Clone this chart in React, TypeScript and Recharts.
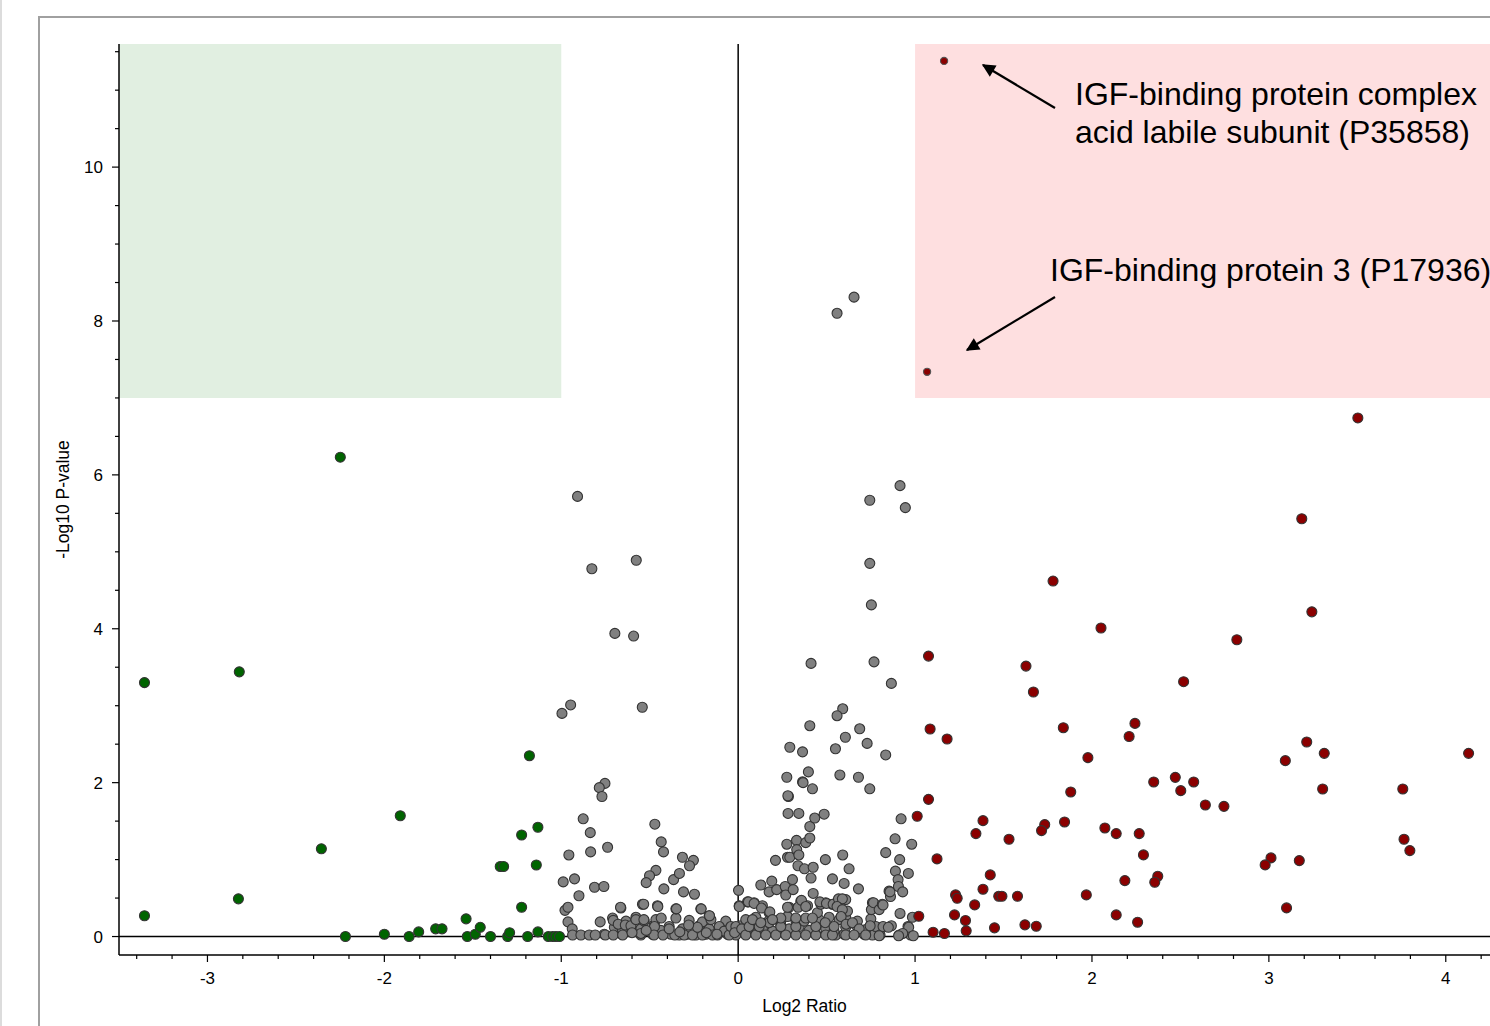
import { ScatterChart, Scatter, XAxis, YAxis, ReferenceArea, ReferenceLine, Label } from "recharts";

// axis setup
const X_DOMAIN: [number, number] = [-3.5, 4.25];
const Y_DOMAIN: [number, number] = [-0.24, 11.6];
const X_MAJOR = [-3, -2, -1, 0, 1, 2, 3, 4];
const Y_MAJOR = [0, 2, 4, 6, 8, 10];
const X_TICKS: number[] = [];
for (let i = -17; i <= 21; i++) X_TICKS.push(Math.round(i * 2) / 10);
const Y_TICKS: number[] = [];
for (let i = 0; i <= 23; i++) Y_TICKS.push(i / 2);

// [log2 ratio, -log10 p]
const downPoints: [number, number][] = [
  [-3.356, 3.3], [-3.356, 0.27], [-2.82, 3.44], [-2.825, 0.49], [-2.249, 6.23], [-2.356, 1.14],
  [-2.22, 0.0], [-2.0, 0.03], [-1.91, 1.57], [-1.86, 0.0], [-1.806, 0.06], [-1.71, 0.1],
  [-1.674, 0.1], [-1.538, 0.23], [-1.531, 0.0], [-1.486, 0.03], [-1.458, 0.12], [-1.4, 0.0],
  [-1.345, 0.91], [-1.326, 0.91], [-1.303, 0.0], [-1.292, 0.05], [-1.224, 1.32], [-1.224, 0.38],
  [-1.19, 0.0], [-1.18, 2.35], [-1.132, 1.42], [-1.141, 0.93], [-1.132, 0.06], [-1.073, 0.0],
  [-1.049, 0.0], [-1.03, 0.0], [-1.01, 0.0],
];

const upPoints: [number, number][] = [
  [3.503, 6.74], [3.186, 5.43], [1.78, 4.62], [3.243, 4.22], [2.051, 4.01],
  [1.076, 3.645], [1.627, 3.515], [1.669, 3.178], [2.819, 3.857], [2.518, 3.312],
  [1.085, 2.697], [1.181, 2.567], [1.838, 2.714], [2.243, 2.77], [2.21, 2.6],
  [1.977, 2.325], [3.214, 2.528], [3.313, 2.381], [4.129, 2.381], [3.093, 2.286],
  [1.88, 1.879], [2.349, 2.009], [2.471, 2.069], [2.502, 1.896], [2.575, 2.009],
  [2.641, 1.71], [2.746, 1.692], [3.304, 1.918], [3.757, 1.918], [1.076, 1.783],
  [1.012, 1.563], [1.384, 1.506], [1.344, 1.338], [1.531, 1.264], [1.733, 1.455],
  [1.715, 1.377], [1.845, 1.489], [2.073, 1.411], [2.137, 1.338], [2.267, 1.338],
  [2.291, 1.061], [3.764, 1.264], [3.797, 1.117], [1.124, 1.009], [3.012, 1.022],
  [2.979, 0.931], [3.172, 0.987], [1.425, 0.801], [2.372, 0.783], [2.355, 0.705],
  [2.186, 0.727], [1.384, 0.615], [1.229, 0.541], [1.238, 0.497], [1.473, 0.523],
  [1.491, 0.523], [1.579, 0.523], [1.968, 0.541], [1.337, 0.411], [3.1, 0.372],
  [1.021, 0.264], [1.223, 0.281], [1.285, 0.208], [1.289, 0.074], [2.137, 0.281],
  [2.258, 0.186], [1.449, 0.113], [1.621, 0.152], [1.685, 0.134], [1.102, 0.056],
  [1.166, 0.039],
];

// the two labelled proteins
const labelledPoints: [number, number][] = [[1.164, 11.38], [1.068, 7.34]];

const otherPoints: [number, number][] = [
  [0.655, 8.31], [0.559, 8.1], [-0.908, 5.72], [0.915, 5.86], [0.744, 5.67], [0.945, 5.575],
  [-0.576, 4.89], [-0.827, 4.78], [0.744, 4.85], [0.753, 4.31], [-0.697, 3.94], [-0.591, 3.905],
  [0.412, 3.55], [0.768, 3.57], [0.866, 3.29], [-0.542, 2.98], [-0.947, 3.01], [-0.996, 2.9],
  [-0.753, 1.99], [-0.785, 1.935], [-0.77, 1.82],
  [0.591, 2.96], [0.559, 2.87], [0.405, 2.74], [0.687, 2.7], [0.606, 2.59], [0.729, 2.51],
  [0.292, 2.46], [0.364, 2.4], [0.55, 2.44], [0.834, 2.36], [0.397, 2.14], [0.275, 2.07],
  [0.364, 2.01], [0.575, 2.1], [0.68, 2.07], [0.42, 1.92], [0.744, 1.92], [0.284, 1.82],
  [-0.876, 1.53], [-0.836, 1.35], [-0.834, 1.1], [-0.738, 1.16], [-0.957, 1.06], [-0.989, 0.71],
  [-0.925, 0.75], [-0.812, 0.64], [-0.759, 0.65], [-0.9, 0.53], [-0.979, 0.34], [-0.962, 0.38],
  [-0.962, 0.19], [-0.78, 0.19], [-0.665, 0.38], [-0.938, 0.1], [-0.706, 0.21], [-0.678, 0.16],
  [-0.638, 0.15], [-0.606, 0.14], [-0.578, 0.22], [-0.533, 0.22], [-0.534, 0.42], [-0.454, 0.39],
  [-0.471, 1.46], [-0.435, 1.23], [-0.422, 1.1], [-0.465, 0.86], [-0.501, 0.79], [-0.52, 0.7],
  [-0.42, 0.62], [-0.365, 0.74], [-0.332, 0.82], [-0.315, 1.03], [-0.253, 0.99], [-0.275, 0.92],
  [-0.309, 0.58], [-0.247, 0.55], [-0.349, 0.36], [-0.209, 0.36], [-0.162, 0.27], [-0.435, 0.24],
  [-0.473, 0.13], [-0.55, 0.04],
  [-0.936, 0.02], [-0.889, 0.02], [-0.842, 0.02], [-0.808, 0.02], [-0.751, 0.02], [-0.706, 0.02],
  [-0.653, 0.02], [-0.476, 0.02], [-0.425, 0.02], [-0.358, 0.02], [-0.305, 0.02], [-0.258, 0.02],
  [-0.202, 0.02], [-0.145, 0.02], [-0.107, 0.13], [-0.079, 0.07], [-0.051, 0.02], [-0.041, 0.13],
  [-0.013, 0.13], [0.002, 0.6], [0.006, 0.39],
  [-0.6, 0.05], [-0.52, 0.08], [-0.39, 0.1], [-0.33, 0.06], [-0.23, 0.12], [-0.18, 0.05],
  [-0.12, 0.03], [-0.28, 0.15], [-0.02, 0.05], [0.02, 0.1],
  [0.058, 0.45], [0.09, 0.43], [0.132, 0.37], [0.179, 0.32], [0.128, 0.67], [0.175, 0.58],
  [0.19, 0.72], [0.218, 0.61], [0.211, 0.99], [0.266, 0.65], [0.269, 0.54], [0.307, 0.74],
  [0.311, 0.61], [0.279, 1.03], [0.292, 1.03], [0.275, 1.2], [0.33, 1.25], [0.331, 1.13],
  [0.343, 1.06], [0.382, 1.22], [0.405, 1.28], [0.405, 1.43], [0.433, 1.54], [0.486, 1.59],
  [0.343, 1.6], [0.282, 1.6], [0.281, 1.83], [0.367, 2.0], [0.338, 0.92], [0.375, 0.88],
  [0.424, 0.9], [0.412, 0.76], [0.424, 0.56], [0.493, 1.0], [0.533, 0.75], [0.591, 1.06],
  [0.627, 0.88], [0.599, 0.69], [0.68, 0.62], [0.279, 0.38], [0.339, 0.38], [0.358, 0.47],
  [0.382, 0.39], [0.462, 0.45], [0.499, 0.43], [0.537, 0.42], [0.567, 0.49], [0.589, 0.49],
  [0.559, 0.39], [0.589, 0.35], [0.582, 0.26], [0.61, 0.16], [0.646, 0.18], [0.684, 0.1],
  [0.721, 0.02], [0.746, 0.14], [0.753, 0.35], [0.765, 0.44], [0.797, 0.35], [0.815, 0.42],
  [0.853, 0.59], [0.834, 1.09], [0.887, 1.27], [0.921, 1.53], [0.981, 1.2], [0.913, 1.0],
  [0.889, 0.85], [0.962, 0.82], [0.904, 0.74], [0.906, 0.65], [0.861, 0.52], [0.915, 0.3],
  [0.985, 0.25], [0.866, 0.14], [0.96, 0.13], [0.91, 0.02], [0.975, 0.02], [0.802, 0.02],
  [0.043, 0.02], [0.1, 0.02], [0.156, 0.02], [0.213, 0.02], [0.269, 0.02], [0.326, 0.02],
  [0.382, 0.02], [0.439, 0.02], [0.495, 0.02], [0.533, 0.02], [0.608, 0.02], [0.655, 0.02],
  [0.062, 0.13], [0.119, 0.13], [0.175, 0.18], [0.241, 0.13], [0.326, 0.13], [0.382, 0.24],
  [0.439, 0.13], [0.492, 0.18], [0.542, 0.13], [0.42, 0.24], [0.326, 0.24], [0.241, 0.24],
  [0.081, 0.22], [0.128, 0.18], [0.194, 0.22],
  [0.93, 0.58], [0.858, 0.58], [0.819, 0.41], [0.819, 0.13], [0.849, 0.12], [0.964, 0.12],
  [0.93, 0.04], [0.99, 0.01], [0.797, 0.01], [0.907, 0.01],
];

// the crowded band just above zero
const bandPoints: [number, number][] = [
  [-0.757, 0.03], [-0.657, 0.03], [-0.55, 0.02], [-0.484, 0.03], [-0.38, 0.03], [-0.333, 0.02],
  [-0.286, 0.03], [-0.239, 0.02], [-0.182, 0.03], [-0.117, 0.02], [-0.06, 0.03], [-0.013, 0.02],
  [0.043, 0.03], [0.156, 0.03], [0.269, 0.03], [0.439, 0.03], [0.552, 0.02], [0.599, 0.03],
  [0.712, 0.03], [0.759, 0.02],
  [-0.7, 0.12], [-0.654, 0.09], [-0.606, 0.13], [-0.55, 0.1], [-0.475, 0.15], [-0.437, 0.08],
  [-0.39, 0.13], [-0.315, 0.1], [-0.277, 0.07], [-0.22, 0.14], [-0.164, 0.1], [-0.107, 0.08],
  [-0.07, 0.15], [-0.041, 0.09], [0.015, 0.14], [0.053, 0.09], [0.09, 0.15], [0.137, 0.1],
  [0.194, 0.07], [0.241, 0.15], [0.288, 0.1], [0.345, 0.13], [0.401, 0.08], [0.448, 0.15],
  [0.495, 0.1], [0.542, 0.07], [0.608, 0.12], [0.665, 0.15], [0.721, 0.09], [0.778, 0.13],
  [-0.71, 0.24], [-0.634, 0.2], [-0.578, 0.25], [-0.531, 0.2], [-0.465, 0.22], [-0.352, 0.24],
  [-0.277, 0.21], [-0.202, 0.19], [-0.154, 0.22], [-0.07, 0.2], [0.043, 0.22], [0.1, 0.25],
  [0.175, 0.21], [0.241, 0.2], [0.279, 0.26], [0.326, 0.21], [0.373, 0.2], [0.458, 0.22],
  [0.514, 0.25], [0.571, 0.22], [0.608, 0.25], [0.674, 0.2], [0.75, 0.23],
  [-0.663, 0.37], [-0.541, 0.42], [-0.456, 0.4], [-0.352, 0.36], [-0.211, 0.36], [-0.164, 0.27],
  [0.006, 0.4], [0.053, 0.45], [0.09, 0.44], [0.137, 0.4], [0.175, 0.31], [0.288, 0.38],
  [0.354, 0.46], [0.392, 0.4], [0.448, 0.31], [0.467, 0.42], [0.495, 0.44], [0.533, 0.42],
  [0.571, 0.48], [0.608, 0.48], [0.618, 0.33], [0.759, 0.44],
];

const toRows = (pts: [number, number][]) => pts.map(([x, y]) => ({ x, y }));

const dot = (fill: string, r: number, stroke = "#333") => (props: any) => (
  <circle cx={props.cx} cy={props.cy} r={r} fill={fill} stroke={stroke} strokeWidth={1.1} />
);

function XTick({ x, y, payload }: any) {
  const v = payload.value;
  const major = X_MAJOR.includes(v);
  return (
    <g>
      <line x1={x} y1={y} x2={x} y2={y + (major ? 7 : 4)} stroke="#000" strokeWidth={1.2} />
      {major && (
        <text x={x} y={y + 29} textAnchor="middle" fontSize={17} fill="#000">
          {v}
        </text>
      )}
    </g>
  );
}

function YTick({ x, y, payload }: any) {
  const v = payload.value;
  const major = Y_MAJOR.includes(v);
  return (
    <g>
      <line x1={x - (major ? 7 : 4)} y1={y} x2={x} y2={y} stroke="#000" strokeWidth={1.2} />
      {major && (
        <text x={x - 16} y={y + 6} textAnchor="end" fontSize={17} fill="#000">
          {v}
        </text>
      )}
    </g>
  );
}

export default function App() {
  return (
    <div
      style={{
        position: "absolute",
        left: 0,
        top: 0,
        width: 1490,
        height: 1026,
        background: "#fff",
        overflow: "hidden",
        fontFamily: "'Liberation Sans', Arial, sans-serif",
      }}
    >
      <div style={{ position: "absolute", left: 0, top: 0, width: 2, height: 1026, background: "#dcdcdc" }} />
      <div
        style={{
          position: "absolute",
          left: 38,
          top: 16,
          width: 1460,
          height: 1020,
          borderLeft: "2px solid #a0a0a0",
          borderTop: "2px solid #a0a0a0",
        }}
      />
      <div style={{ position: "absolute", left: 0, top: 0 }}>
        <ScatterChart width={1490} height={1026} margin={{ top: 44, right: 0, bottom: 0, left: 0 }}>
          <XAxis
            type="number"
            dataKey="x"
            domain={X_DOMAIN}
            allowDataOverflow
            ticks={X_TICKS}
            interval={0}
            tick={<XTick />}
            tickSize={0}
            tickMargin={0}
            tickLine={false}
            axisLine={{ stroke: "#000", strokeWidth: 1.5 }}
            height={71}
          >
            <Label
              content={({ viewBox }: any) => (
                <text x={viewBox.x + viewBox.width / 2} y={1012} textAnchor="middle" fontSize={17.5} fill="#000">
                  Log2 Ratio
                </text>
              )}
            />
          </XAxis>
          <YAxis
            type="number"
            dataKey="y"
            domain={Y_DOMAIN}
            allowDataOverflow
            ticks={Y_TICKS}
            interval={0}
            tick={<YTick />}
            tickSize={0}
            tickMargin={0}
            tickLine={false}
            axisLine={{ stroke: "#000", strokeWidth: 1.5 }}
            width={119}
          >
            <Label
              content={({ viewBox }: any) => {
                const cy = viewBox.y + viewBox.height / 2;
                return (
                  <text x={69} y={cy} transform={`rotate(-90 69 ${cy})`} textAnchor="middle" fontSize={17.5} fill="#000">
                    -Log10 P-value
                  </text>
                );
              }}
            />
          </YAxis>
          <ReferenceArea x1={-3.5} x2={-1} y1={7} y2={11.6} fill="#e1efe1" fillOpacity={1} stroke="none" ifOverflow="hidden" />
          <ReferenceArea x1={1} x2={4.25} y1={7} y2={11.6} fill="#fedfe0" fillOpacity={1} stroke="none" ifOverflow="hidden" />
          <ReferenceLine y={0} stroke="#000" strokeWidth={1.5} />
          <ReferenceLine x={0} stroke="#000" strokeWidth={1.5} />
          <Scatter data={toRows(bandPoints)} shape={dot("#808080", 5)} isAnimationActive={false} />
          <Scatter data={toRows(otherPoints)} shape={dot("#808080", 5)} isAnimationActive={false} />
          <Scatter data={toRows(downPoints)} shape={dot("#006400", 5)} isAnimationActive={false} />
          <Scatter data={toRows(upPoints)} shape={dot("#8b0000", 5)} isAnimationActive={false} />
          <Scatter data={toRows(labelledPoints)} shape={dot("#8b0000", 3.6, "#555")} isAnimationActive={false} />
        </ScatterChart>
      </div>
      <svg width={1490} height={1026} style={{ position: "absolute", left: 0, top: 0, pointerEvents: "none" }}>
        <defs>
          <marker id="head" viewBox="0 0 10 10" refX="9" refY="5" markerWidth="7" markerHeight="6" orient="auto">
            <path d="M0,0 L10,5 L0,10 z" fill="#000" />
          </marker>
        </defs>
        <line x1={1055} y1={108} x2={983} y2={65} stroke="#000" strokeWidth={2.2} markerEnd="url(#head)" />
        <line x1={1055} y1={297} x2={967} y2={350} stroke="#000" strokeWidth={2.2} markerEnd="url(#head)" />
        <g fontSize={32} fill="#000">
          <text x={1075} y={105}>IGF-binding protein complex</text>
          <text x={1075} y={143}>acid labile subunit (P35858)</text>
          <text x={1050} y={281}>IGF-binding protein 3 (P17936)</text>
        </g>
      </svg>
    </div>
  );
}
